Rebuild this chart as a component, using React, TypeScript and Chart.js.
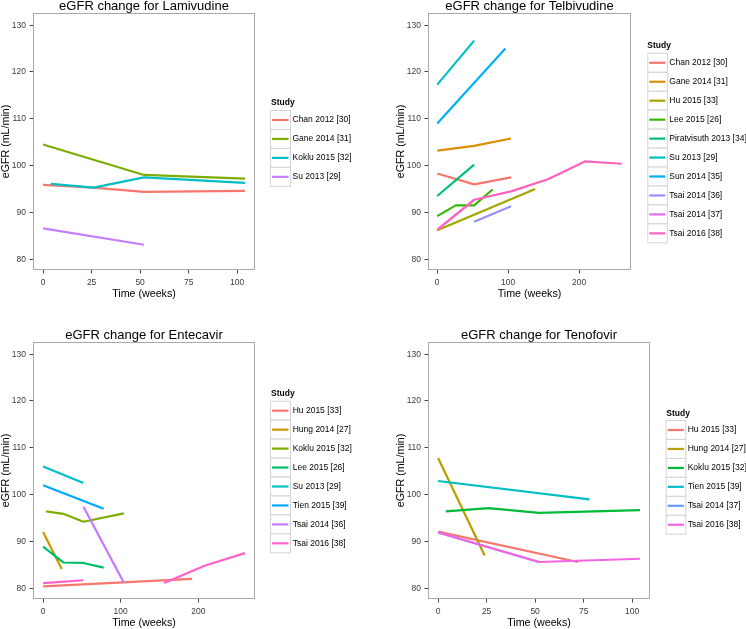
import React, { useEffect, useRef } from 'react';
import { Chart, registerables } from 'chart.js';

Chart.register(...registerables);

const FONT = '"Liberation Sans", Arial, Helvetica, sans-serif';

// ---- shared axis ticks ----
const yTicks = [80, 90, 100, 110, 120, 130];
const xTicksShort = [0, 25, 50, 75, 100];
const xTicksLong = [0, 100, 200];

// ---- Lamivudine ----
const lamStudies = ['Chan 2012 [30]', 'Gane 2014 [31]', 'Koklu 2015 [32]', 'Su 2013 [29]'];
const lamWeeks = [[0, 26, 52, 104], [0, 52, 104], [4, 26, 52, 104], [0, 52]];
const lamValues = [[95.9, 95.3, 94.4, 94.6], [104.5, 98.0, 97.2], [96.1, 95.3, 97.5, 96.3], [86.6, 83.1]];

// ---- Telbivudine ----
const telStudies = ['Chan 2012 [30]', 'Gane 2014 [31]', 'Hu 2015 [33]', 'Lee 2015 [26]', 'Piratvisuth 2013 [34]', 'Su 2013 [29]', 'Sun 2014 [35]', 'Tsai 2014 [36]', 'Tsai 2014 [37]', 'Tsai 2016 [38]'];
const telWeeks = [[0, 52, 104], [0, 52, 104], [0, 138], [0, 26, 52, 78], [0, 52], [0, 52], [0, 96], [52, 104], [0, 52], [0, 52, 104, 156, 208, 260]];
const telValues = [[98.3, 96.0, 97.5], [103.2, 104.2, 105.8], [86.2, 95.0], [89.2, 91.5, 91.5, 94.9], [93.5, 100.2], [117.3, 126.7], [109.0, 125.0], [88.0, 91.3], [86.3, 92.7], [86.3, 92.7, 94.5, 97.1, 100.9, 100.4]];

// ---- Entecavir ----
const entStudies = ['Hu 2015 [33]', 'Hung 2014 [27]', 'Koklu 2015 [32]', 'Lee 2015 [26]', 'Su 2013 [29]', 'Tien 2015 [39]', 'Tsai 2014 [36]', 'Tsai 2016 [38]'];
const entWeeks = [[0, 192], [0, 24], [4, 26, 52, 104], [0, 26, 52, 78], [0, 52], [0, 78], [52, 104], [0, 52, 104, 156, 208, 260]];
const entValues = [[80.4, 82.0], [92.0, 84.1], [96.4, 95.9, 94.2, 96.0], [88.9, 85.5, 85.4, 84.4], [106.0, 102.5], [102.0, 97.0], [97.4, 81.2], [81.1, 81.7, null, 81.1, 84.8, 87.5]];

// ---- Tenofovir ----
const tenStudies = ['Hu 2015 [33]', 'Hung 2014 [27]', 'Koklu 2015 [32]', 'Tien 2015 [39]', 'Tsai 2014 [37]', 'Tsai 2016 [38]'];
const tenWeeks = [[0, 72], [0, 24], [4, 26, 52, 104], [0, 78], [0, 52], [0, 52, 104]];
const tenValues = [[92.1, 85.6], [107.8, 87.0], [96.4, 97.1, 96.1, 96.7], [102.9, 99.0], [91.9, 85.6], [91.9, 85.6, 86.3]];

// ---- ggplot hue palettes ----
const hue4 = ['#F8766D', '#7CAE00', '#00BFC4', '#C77CFF'];
const hue10 = ['#F8766D', '#D89000', '#A3A500', '#39B600', '#00BF7D', '#00BFC4', '#00B0F6', '#9590FF', '#E76BF3', '#FF62BC'];
const hue8 = ['#F8766D', '#CD9600', '#7CAE00', '#00BE67', '#00BFC4', '#00A9FF', '#C77CFF', '#FF61CC'];
const hue6 = ['#F8766D', '#B79F00', '#00BA38', '#00BFC4', '#619CFF', '#F564E3'];

const Y_MIN = 77.7;
const Y_MAX = 132.6;
const STEP = 18.95;

type Cfg = {
  title: string;
  left: number; top: number; w: number; h: number;
  area: { l: number; t: number; r: number; b: number };
  xMin: number; xMax: number; xTicks: number[];
  studies: string[]; weeks: number[][]; values: (number | null)[][]; colors: string[];
  xTitlePad: number; yTitlePad: number;
  legend: { titleX: number; titleY: number; boxX: number; keyW: number; textX: number; firstY: number };
};

const panels: Cfg[] = [
  {
    title: 'eGFR change for Lamivudine', left: 0, top: 0, w: 373, h: 310,
    area: { l: 33, t: 13, r: 255, b: 270 }, xMin: -5.2, xMax: 109.2, xTicks: xTicksShort,
    studies: lamStudies, weeks: lamWeeks, values: lamValues, colors: hue4,
    xTitlePad: 9.6, yTitlePad: -0.6,
    legend: { titleX: 271, titleY: 102.5, boxX: 270, keyW: 20, textX: 292.5, firstY: 120 },
  },
  {
    title: 'eGFR change for Telbivudine', left: 373, top: 0, w: 373, h: 310,
    area: { l: 55, t: 13, r: 258, b: 270 }, xMin: -13, xMax: 273, xTicks: xTicksLong,
    studies: telStudies, weeks: telWeeks, values: telValues, colors: hue10,
    xTitlePad: 9.6, yTitlePad: 21.5,
    legend: { titleX: 274.3, titleY: 45.7, boxX: 274.3, keyW: 19.5, textX: 296.3, firstY: 62.8 },
  },
  {
    title: 'eGFR change for Entecavir', left: 0, top: 310, w: 373, h: 319,
    area: { l: 33, t: 32, r: 255, b: 289 }, xMin: -13, xMax: 273, xTicks: xTicksLong,
    studies: entStudies, weeks: entWeeks, values: entValues, colors: hue8,
    xTitlePad: 0, yTitlePad: -0.6,
    legend: { titleX: 271, titleY: 84, boxX: 270, keyW: 20, textX: 292.7, firstY: 100.7 },
  },
  {
    title: 'eGFR change for Tenofovir', left: 373, top: 310, w: 373, h: 319,
    area: { l: 55, t: 32, r: 277, b: 289 }, xMin: -5.2, xMax: 109.2, xTicks: xTicksShort,
    studies: tenStudies, weeks: tenWeeks, values: tenValues, colors: hue6,
    xTitlePad: 0, yTitlePad: 21.5,
    legend: { titleX: 293.3, titleY: 103.3, boxX: 292.7, keyW: 19.6, textX: 314.7, firstY: 120 },
  },
];

function Panel({ cfg }: { cfg: Cfg }) {
  const ref = useRef<HTMLCanvasElement>(null);
  useEffect(() => {
    if (!ref.current) return;
    const datasets = cfg.studies.map((s, i) => ({
      label: s,
      data: cfg.weeks[i].map((w, j) => ({ x: w, y: cfg.values[i][j] })),
      borderColor: cfg.colors[i],
      backgroundColor: cfg.colors[i],
      borderWidth: 2.2,
      pointRadius: 0,
      pointHoverRadius: 0,
      tension: 0,
      fill: false,
      spanGaps: false,
      borderJoinStyle: 'round' as const,
      borderCapStyle: 'butt' as const,
      order: -i,
    }));

    const decor = {
      id: 'decor',
      afterDraw(chart: any) {
        const { ctx, chartArea: a } = chart;
        ctx.save();
        // panel border
        ctx.strokeStyle = '#A8A8A8';
        ctx.lineWidth = 1;
        ctx.strokeRect(a.left + 0.5, a.top + 0.5, a.right - a.left - 1, a.bottom - a.top - 1);
        // title
        ctx.fillStyle = '#000';
        ctx.font = `13px ${FONT}`;
        ctx.textAlign = 'center';
        ctx.textBaseline = 'alphabetic';
        ctx.fillText(cfg.title, (a.left + a.right) / 2, a.top - 3.3);
        // legend
        const L = cfg.legend;
        ctx.textAlign = 'left';
        ctx.textBaseline = 'middle';
        ctx.font = `bold 8.5px ${FONT}`;
        ctx.fillText('Study', L.titleX, L.titleY);
        chart.data.datasets.forEach((ds: any, i: number) => {
          const cy = L.firstY + i * STEP;
          ctx.fillStyle = '#FFFFFF';
          ctx.fillRect(L.boxX, cy - STEP / 2, L.keyW, STEP);
          ctx.strokeStyle = '#D4D4D4';
          ctx.lineWidth = 1;
          ctx.strokeRect(L.boxX + 0.5, cy - STEP / 2, L.keyW, STEP);
          ctx.strokeStyle = ds.borderColor;
          ctx.lineWidth = 2.2;
          ctx.beginPath();
          ctx.moveTo(L.boxX + 2, cy);
          ctx.lineTo(L.boxX + L.keyW - 1.5, cy);
          ctx.stroke();
          ctx.fillStyle = '#000';
          ctx.font = `8.5px ${FONT}`;
          ctx.fillText(ds.label, L.textX, cy);
        });
        ctx.restore();
      },
    };

    const tickFont = { family: FONT, size: 8.5 };
    const titleFont = { family: FONT, size: 10.7 };

    const chart = new Chart(ref.current, {
      type: 'line',
      data: { datasets: datasets as any },
      options: {
        animation: false,
        responsive: false,
        devicePixelRatio: 1,
        events: [],
        layout: { padding: { left: 0, top: cfg.area.t, right: cfg.w - cfg.area.r, bottom: 0 } },
        plugins: { legend: { display: false }, tooltip: { enabled: false }, title: { display: false } },
        scales: {
          x: {
            type: 'linear',
            min: cfg.xMin,
            max: cfg.xMax,
            afterBuildTicks: (s: any) => { s.ticks = cfg.xTicks.map((v) => ({ value: v })); },
            afterFit: (s: any) => { s.height = cfg.h - cfg.area.b; },
            ticks: { font: tickFont, color: '#3C3C3C', padding: 4, autoSkip: false, maxRotation: 0 },
            grid: { drawOnChartArea: false, drawTicks: true, tickLength: 3.5, color: '#444', lineWidth: 1 },
            border: { display: false },
            title: { display: true, text: 'Time (weeks)', font: titleFont, color: '#000', padding: { top: 0, bottom: cfg.xTitlePad } },
          },
          y: {
            type: 'linear',
            min: Y_MIN,
            max: Y_MAX,
            afterBuildTicks: (s: any) => { s.ticks = yTicks.map((v) => ({ value: v })); },
            afterFit: (s: any) => { s.width = cfg.area.l; },
            ticks: { font: tickFont, color: '#3C3C3C', padding: 3.5, autoSkip: false },
            grid: { drawOnChartArea: false, drawTicks: true, tickLength: 3.5, color: '#444', lineWidth: 1 },
            border: { display: false },
            title: { display: true, text: 'eGFR (mL/min)', font: titleFont, color: '#000', padding: { top: cfg.yTitlePad, bottom: 0 } },
          },
        },
      },
      plugins: [decor],
    } as any);
    return () => chart.destroy();
  }, [cfg]);

  return (
    <canvas
      ref={ref}
      width={cfg.w}
      height={cfg.h}
      style={{ position: 'absolute', left: cfg.left, top: cfg.top, width: cfg.w, height: cfg.h }}
    />
  );
}

export default function App() {
  return (
    <div style={{ position: 'absolute', left: 0, top: 0, width: 746, height: 629, background: '#fff', overflow: 'hidden' }}>
      {panels.map((p) => (
        <Panel key={p.title} cfg={p} />
      ))}
    </div>
  );
}
